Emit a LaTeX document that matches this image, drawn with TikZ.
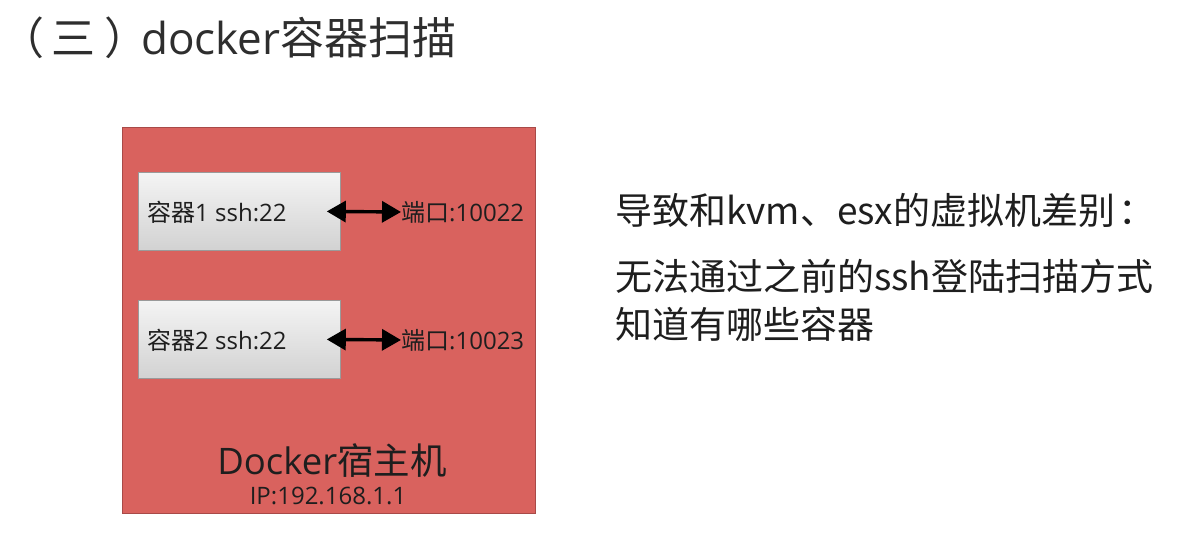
\documentclass[tikz,border=0pt]{standalone}
\usepackage{fontspec}
\setmainfont{Noto Sans CJK SC}
\newfontfamily\lat{Open Sans}
\usetikzlibrary{arrows.meta}
\definecolor{hostred}{HTML}{D9625E}
\definecolor{hostborder}{HTML}{A84A48}
\definecolor{boxtop}{HTML}{F4F4F4}
\definecolor{boxbot}{HTML}{D2D2D2}
\definecolor{boxborder}{HTML}{9A9A9A}
\definecolor{txt}{HTML}{1E1E1E}
\tikzset{
  host/.style={draw=hostborder, line width=1.2pt, fill=hostred, minimum width=413pt, minimum height=386pt, anchor=north west, inner sep=0pt},
  cbox/.style={draw=boxborder, line width=0.8pt, top color=boxtop, bottom color=boxbot, minimum width=202pt, minimum height=78pt, anchor=north west, inner sep=0pt},
  small/.style={font=\fontsize{24}{28}\selectfont, text=txt, inner sep=0pt, anchor=west},
  big/.style={font=\fontsize{37}{44}\selectfont, text=txt, inner sep=0pt, anchor=west},
  link/.style={line width=3.4pt, arrows={Triangle[length=19pt,width=21pt]-Triangle[length=19pt,width=21pt]}},
}
\begin{document}
\begin{tikzpicture}[x=1pt,y=-1pt]
\useasboundingbox (0,0) rectangle (1203,535);
\fill[white] (0,0) rectangle (1203,535);
\node[big, font=\fontsize{44}{50}\selectfont, text={black!82}] (title) at (0,38) {（\hspace{7pt}三\hspace{9pt}）\hspace{-7pt}{\lat docker}容器扫描};
\node[host] (host) at (122,127) {};
\node[cbox] (c1) at (138,172) {};
\node[cbox] (c2) at (138,300) {};
\node[small] (t1) at (147,212) {容器{\lat 1 ssh:22}};
\node[small] (t2) at (147,340) {容器{\lat 2 ssh:22}};
\node[small] (p1) at (401,212) {端口{\lat :10022}};
\node[small] (p2) at (401,340) {端口{\lat :10023}};
\draw[link] ([xshift=-14pt]c1.east) -- (p1.west);
\draw[link] ([xshift=-14pt]c2.east) -- (p2.west);
\node[font=\fontsize{36.5}{42}\selectfont, text=txt, inner sep=0pt] (hn) at (332,461) {{\lat Docker}宿主机};
\node[font=\fontsize{24}{28}\selectfont, text=txt, inner sep=0pt] (ip) at (328,496) {\lat IP:192.168.1.1};
\node[big] (l1) at (615,210) {导致和kvm、esx的虚拟机差别\hspace{3pt}：};
\node[big] (l2) at (615,276) {无法通过之前的ssh登陆扫描方式};
\node[big] (l3) at (615,324) {知道有哪些容器};
\end{tikzpicture}
\end{document}
